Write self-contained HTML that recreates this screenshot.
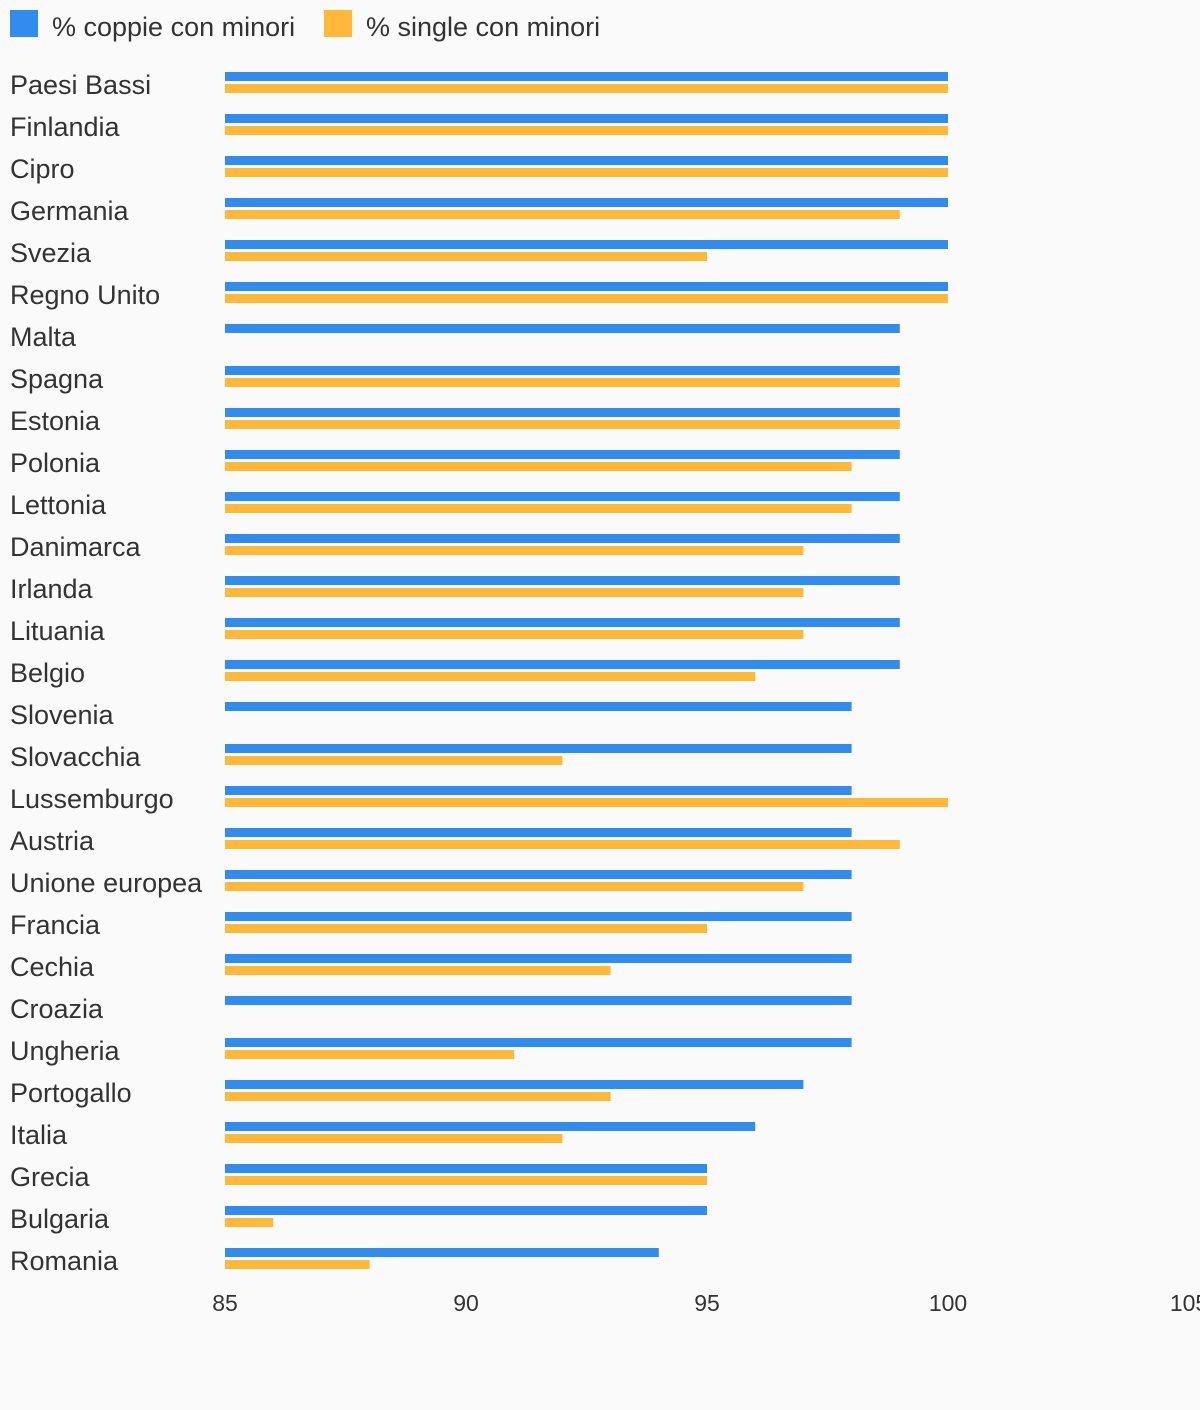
<!DOCTYPE html>
<html><head><meta charset="utf-8">
<style>
html,body{margin:0;padding:0;background:#fafafa;}
svg{display:block;font-family:"Liberation Sans",sans-serif;}
</style></head>
<body>
<svg id="chart" width="1200" height="1410" viewBox="0 0 1200 1410">
<rect width="1200" height="1410" fill="#fafafa"/>
<g>
<rect x="10" y="10" width="28" height="27" fill="#318ced"/>
<text x="52" y="36" font-size="27" fill="#333">% coppie con minori</text>
<rect x="324" y="10" width="28" height="27" fill="#ffb83a"/>
<text x="366" y="36" font-size="27" fill="#333">% single con minori</text>
</g>
<g id="bars"></g>
<g id="labels"></g>
<g id="ticks"></g>
</svg>
<script>
const categories = ["Paesi Bassi","Finlandia","Cipro","Germania","Svezia","Regno Unito","Malta","Spagna","Estonia","Polonia","Lettonia","Danimarca","Irlanda","Lituania","Belgio","Slovenia","Slovacchia","Lussemburgo","Austria","Unione europea","Francia","Cechia","Croazia","Ungheria","Portogallo","Italia","Grecia","Bulgaria","Romania"];
const coppie = [100,100,100,100,100,100,99,99,99,99,99,99,99,99,99,98,98,98,98,98,98,98,98,98,97,96,95,95,94];
const single = [100,100,100,99,95,100,null,99,99,98,98,97,97,97,96,null,92,100,99,97,95,93,null,91,93,92,95,86,88];
const tickValues = [85,90,95,100,105];

const NS="http://www.w3.org/2000/svg";
const x0=225, xMin=85, pxPerUnit=(948-225)/15;
const xs=v=>x0+(v-xMin)*pxPerUnit;
const rowY=i=>72+i*42;
const bars=document.getElementById('bars'), labels=document.getElementById('labels'), ticks=document.getElementById('ticks');
function mk(tag,attrs,parent){const e=document.createElementNS(NS,tag);for(const k in attrs)e.setAttribute(k,attrs[k]);parent.appendChild(e);return e;}
categories.forEach((c,i)=>{
  const y=rowY(i);
  const t=mk('text',{x:10,y:y+22,'font-size':27,fill:'#333'},labels);
  t.textContent=c;
  
  
  if(coppie[i]!=null){
    const b=mk('rect',{x:x0,y:y,width:xs(coppie[i])-x0,height:9,fill:'#318ced'},bars);
    
    
  }
  if(single[i]!=null){
    const b=mk('rect',{x:x0,y:y+12,width:xs(single[i])-x0,height:9,fill:'#ffb83a'},bars);
    
    
  }
});
tickValues.forEach(v=>{
  const t=mk('text',{x:xs(v),y:1311,'font-size':23,fill:'#333','text-anchor':'middle'},ticks);
  t.textContent=v;
  
  
});
</script>
</body></html>
